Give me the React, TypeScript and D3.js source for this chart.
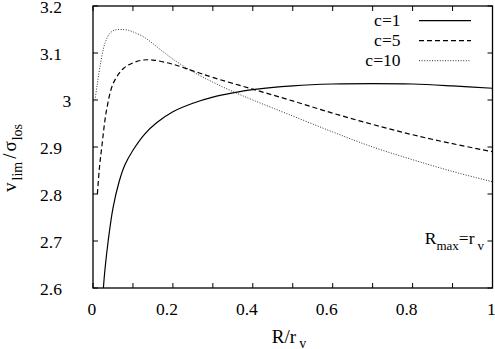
import * as d3 from 'd3';

// R/r_v and v_lim/sigma_los for each concentration
const rC1 = [0.026, 0.03, 0.038, 0.05, 0.065, 0.08, 0.1, 0.13, 0.16, 0.2, 0.25, 0.3, 0.35, 0.4, 0.5, 0.6, 0.7, 0.8, 0.9, 1.0];
const vC1 = [2.6, 2.64, 2.7, 2.77, 2.825, 2.862, 2.893, 2.928, 2.952, 2.975, 2.993, 3.006, 3.015, 3.022, 3.03, 3.034, 3.035, 3.034, 3.03, 3.025];

const rC5 = [0.011, 0.016, 0.022, 0.034, 0.051, 0.076, 0.1, 0.125, 0.15, 0.2, 0.25, 0.3, 0.4, 0.5, 0.6, 0.7, 0.8, 0.9, 1.0];
const vC5 = [2.8, 2.855, 2.9, 2.979, 3.036, 3.067, 3.079, 3.085, 3.085, 3.076, 3.062, 3.048, 3.023, 2.998, 2.972, 2.948, 2.926, 2.907, 2.89];

const rC10 = [0.005, 0.01, 0.0175, 0.03, 0.0425, 0.055, 0.07, 0.085, 0.1, 0.125, 0.15, 0.175, 0.2, 0.25, 0.3, 0.35, 0.4, 0.5, 0.6, 0.7, 0.8, 0.9, 1.0];
const vC10 = [3.0, 3.03, 3.071, 3.121, 3.142, 3.149, 3.15, 3.149, 3.145, 3.135, 3.12, 3.103, 3.087, 3.06, 3.038, 3.018, 3.0, 2.966, 2.932, 2.9, 2.873, 2.848, 2.826];

const seriesNames = ['c=1', 'c=5', 'c=10'];
const xTicks = [0, 0.1, 0.2, 0.3, 0.4, 0.5, 0.6, 0.7, 0.8, 0.9, 1];
const xTickLabels = ['0', '0.2', '0.4', '0.6', '0.8', '1'];
const xLabelValues = [0, 0.2, 0.4, 0.6, 0.8, 1];
const yTicks = [2.6, 2.7, 2.8, 2.9, 3, 3.1, 3.2];
const yTickLabels = ['2.6', '2.7', '2.8', '2.9', '3', '3.1', '3.2'];

const W = 495;
const H = 349;
const left = 93, right = 492.5, top = 6, bottom = 288;
const font = "'Liberation Serif', 'Times New Roman', 'Liberation Sans', Arial, sans-serif";
const fs = 17.5;
const charW = 11.25; // gnuplot-like estimated glyph width for tick label placement

export default function App() {
  const x = d3.scaleLinear().domain([0, 1]).range([left, right]);
  const y = d3.scaleLinear().domain([2.6, 3.2]).range([bottom, top]);

  const line = d3.line<[number, number]>()
    .x(d => x(d[0]))
    .y(d => y(d[1]))
    .curve(d3.curveCatmullRom.alpha(0.5));

  const series = [
    { name: seriesNames[0], pts: rC1.map((r, i) => [r, vC1[i]] as [number, number]), dash: null, color: '#000', width: 1.2 },
    { name: seriesNames[1], pts: rC5.map((r, i) => [r, vC5[i]] as [number, number]), dash: '5,3', color: '#000', width: 1.2 },
    { name: seriesNames[2], pts: rC10.map((r, i) => [r, vC10[i]] as [number, number]), dash: '1,1.6', color: '#333', width: 1 },
  ];

  const tickLen = 5;

  return (
    <svg width={W} height={H} style={{ position: 'absolute', left: 0, top: 0, background: '#fff', fontFamily: font }}>
      <defs>
        <clipPath id="plotclip">
          <rect x={left} y={top} width={right - left} height={bottom - top} />
        </clipPath>
      </defs>

      {/* ticks on all four sides */}
      <g stroke="#000" strokeWidth={1}>
        {xTicks.map(t => (
          <g key={'xt' + t}>
            <line x1={x(t)} x2={x(t)} y1={bottom} y2={bottom - tickLen} />
            <line x1={x(t)} x2={x(t)} y1={top} y2={top + tickLen} />
          </g>
        ))}
        {yTicks.map(t => (
          <g key={'yt' + t}>
            <line x1={left} x2={left + tickLen} y1={y(t)} y2={y(t)} />
            <line x1={right} x2={right - tickLen} y1={y(t)} y2={y(t)} />
          </g>
        ))}
      </g>

      {/* tick labels */}
      <g fontSize={fs} fill="#000">
        {xLabelValues.map((v, i) => (
          <text key={'xl' + v} x={x(v) - (xTickLabels[i].length * charW) / 2} y={315}>
            {xTickLabels[i]}
          </text>
        ))}
        {yTicks.map((v, i) => (
          <text key={'yl' + v} x={73.75 - yTickLabels[i].length * charW} y={y(v) + 6.5}>
            {yTickLabels[i]}
          </text>
        ))}
      </g>

      {/* curves */}
      <g clipPath="url(#plotclip)">
        {series.map(s => (
          <path key={s.name} d={line(s.pts) ?? ''} fill="none" stroke={s.color}
            strokeWidth={s.width} strokeDasharray={s.dash ?? undefined} />
        ))}
      </g>

      {/* frame */}
      <rect x={left} y={top} width={right - left} height={bottom - top} fill="none" stroke="#000" strokeWidth={1.3} />

      {/* legend */}
      <g fontSize={fs}>
        {series.map((s, i) => (
          <g key={'lg' + s.name}>
            <text x={400.5} y={26 + i * 20} textAnchor="end">{s.name}</text>
            <line x1={419} x2={471} y1={20.7 + i * 20} y2={20.7 + i * 20} stroke={s.color}
              strokeWidth={s.width} strokeDasharray={s.dash ?? undefined} />
          </g>
        ))}
      </g>

      {/* annotation */}
      <text x={484} y={244} fontSize={fs} textAnchor="end">
        R<tspan fontSize={13} dy={6}>max</tspan><tspan dy={-6}>=r</tspan><tspan fontSize={13} dx={3} dy={6}>v</tspan>
      </text>

      {/* axis titles */}
      <text x={289} y={343} fontSize={19} textAnchor="middle">
        R/r<tspan fontSize={14} dx={3} dy={5}>v</tspan>
      </text>
      <text transform="translate(16,192) rotate(-90)" fontSize={19}>
        v<tspan fontSize={14} dx={2} dy={6}>lim</tspan><tspan dx={3} dy={-6}>/</tspan><tspan dx={2}>σ</tspan><tspan fontSize={14} dx={1} dy={6}>los</tspan>
      </text>
    </svg>
  );
}
